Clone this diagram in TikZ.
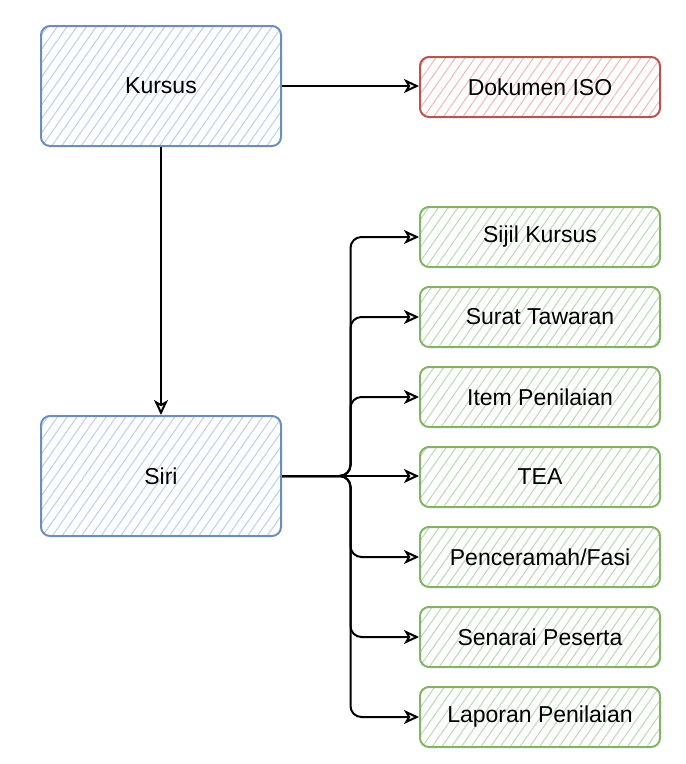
\documentclass[tikz,border=0pt]{standalone}
\usepackage{fontspec}
\setmainfont{Liberation Sans}
\usetikzlibrary{arrows.meta,patterns.meta,calc}
\definecolor{bstroke}{HTML}{6C8EBF}
\definecolor{bfill}{HTML}{BCD3F3}
\definecolor{rstroke}{HTML}{B85450}
\definecolor{rfill}{HTML}{F3BDBA}
\definecolor{gstroke}{HTML}{82B366}
\definecolor{gfill}{HTML}{BEDDB9}
\begin{document}
\begin{tikzpicture}[x=1pt,y=-1pt,
  box/.style={draw, line width=2pt, rounded corners=9pt, inner sep=0pt,
    font=\fontsize{23}{27}\selectfont, text=black},
  hatch/.style={pattern={Lines[angle=55,distance=8pt,line width=1.1pt]}},
  bluebox/.style={box, hatch, draw=bstroke, pattern color=bfill,
    minimum width=240pt, minimum height=120pt},
  redbox/.style={box, hatch, draw=rstroke, pattern color=rfill,
    minimum width=240pt, minimum height=60pt},
  greenbox/.style={box, hatch, draw=gstroke, pattern color=gfill,
    minimum width=240pt, minimum height=60pt},
  conn/.style={draw=black, line width=2pt, rounded corners=11pt,
    -{Stealth[open,length=15pt,width=14pt,inset=4pt]}}
]
\useasboundingbox (0,0) rectangle (686,764);

\node[bluebox] (kursus) at (161,86) {Kursus};
\node[redbox] (iso) at (540,87) {Dokumen ISO};
\node[bluebox] (siri) at (161,476) {Siri};

\node[greenbox] (g1) at (540,237) {Sijil Kursus};
\node[greenbox] (g2) at (540,317) {Surat Tawaran};
\node[greenbox] (g3) at (540,397) {Item Penilaian};
\node[greenbox] (g4) at (540,477) {TEA};
\node[greenbox] (g5) at (540,557) {Penceramah/Fasi};
\node[greenbox] (g6) at (540,637) {Senarai Peserta};
\node[greenbox] (g7) at (540,717) {Laporan Penilaian};

\draw[conn] (kursus.east) -- (kursus.east -| iso.west);
\draw[conn] (kursus.south) -- (siri.north);

\foreach \g in {g1,g2,g3,g5,g6,g7}{
  \draw[conn] (siri.east) -- ($(siri.east)!0.5!(siri.east -| \g.west)$) |- (\g.west);
}
\draw[conn] (siri.east) -- (siri.east -| g4.west);
\end{tikzpicture}
\end{document}
